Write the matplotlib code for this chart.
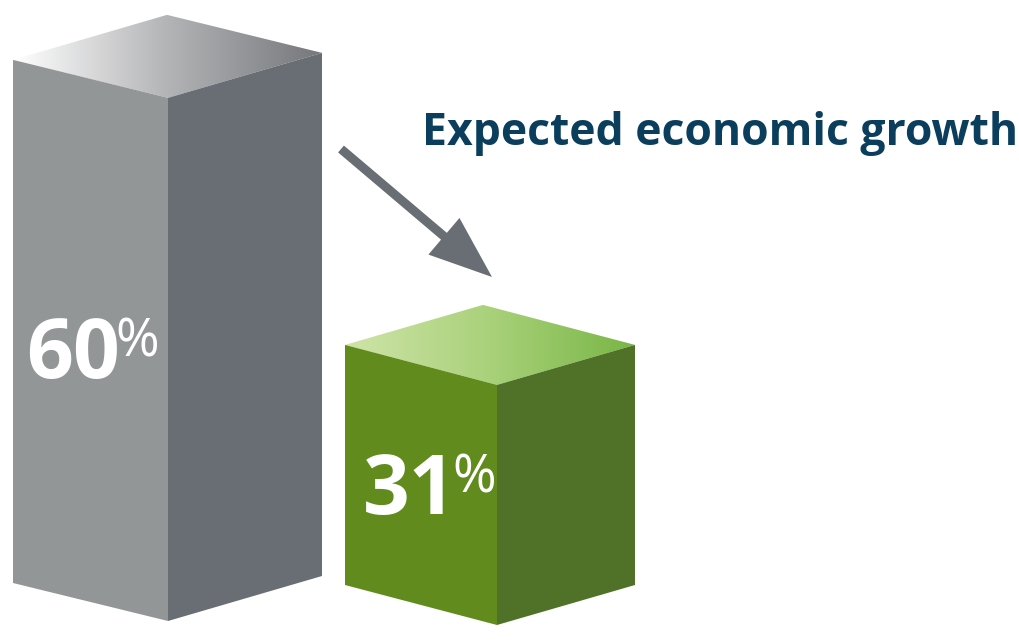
import numpy as np
import matplotlib.pyplot as plt
from matplotlib.patches import Polygon, FancyArrow
from matplotlib.colors import LinearSegmentedColormap

# values shown on the two boxes
categories = ['previous', 'expected']
values = [60, 31]
title = 'Expected economic growth'

W, H = 1019, 641
fig = plt.figure(figsize=(W / 100, H / 100), dpi=100)
ax = fig.add_axes([0, 0, 1, 1])

# pixels per percentage point, boxes start from a cut floor
px_per_pct = 9.76
floor_pct = 6.4

# box layout: bottom-left corner, front/side widths, dip of the front edge,
# offset of the back-right edge, face colours, label baseline
boxes = [
    dict(x=13, y=583, front=155, side=154, dip=38, right=-7,
         front_c='#939697', side_c='#686e74', top_c=('#ffffff', '#b3b4b6', '#76777b'),
         label_x=26, label_y=378),
    dict(x=345, y=585, front=152, side=138, dip=40, right=0,
         front_c='#618c1d', side_c='#4f7228', top_c=('#cfe4a8', '#a9d17a', '#79b646'),
         label_x=363, label_y=514),
]


def draw_box(b, value):
    h = (value - floor_pct) * px_per_pct
    x0, y0 = b['x'], b['y']
    xm, xr = x0 + b['front'], x0 + b['front'] + b['side']
    bl, bm, br = (x0, y0), (xm, y0 + b['dip']), (xr, y0 + b['right'])
    tl, tm, tr = (x0, y0 - h), (xm, y0 + b['dip'] - h), (xr, y0 + b['right'] - h)
    tb = (tl[0] + tr[0] - tm[0], tl[1] + tr[1] - tm[1])

    ax.add_patch(Polygon([tl, tm, bm, bl], closed=True, fc=b['front_c'], ec='none'))
    ax.add_patch(Polygon([tm, tr, br, bm], closed=True, fc=b['side_c'], ec='none'))

    # top face: horizontal gradient clipped to the face outline
    top = Polygon([tl, tb, tr, tm], closed=True, fc='none', ec='none')
    ax.add_patch(top)
    cmap = LinearSegmentedColormap.from_list('top', list(b['top_c']))
    grad = np.linspace(0, 1, 256).reshape(1, -1)
    im = ax.imshow(grad, cmap=cmap, aspect='auto', interpolation='bilinear',
                   extent=(tl[0], tr[0], tm[1], tb[1]))
    im.set_clip_path(top)

    t = ax.text(b['label_x'], b['label_y'], str(value), color='white',
                fontsize=59, fontweight='bold', family='Open Sans',
                ha='left', va='baseline')
    ax.annotate('%', xy=(1, 1), xycoords=t, xytext=(-3, -1), textcoords='offset points',
                color='white', fontsize=38, family='Open Sans',
                ha='left', va='top')


for b, v in zip(boxes, values):
    draw_box(b, v)

# downward arrow between the boxes
ax.add_patch(FancyArrow(341, 149, 151, 128, width=9, head_width=48, head_length=63,
                        length_includes_head=True, fc='#686e74', ec='none'))

ax.text(422, 145, title, color='#0b3d5c', fontsize=32, fontweight='bold',
        family='Open Sans', ha='left', va='baseline')

ax.set_xlim(0, W)
ax.set_ylim(H, 0)
ax.axis('off')

fig.savefig('out.png', dpi=100)
